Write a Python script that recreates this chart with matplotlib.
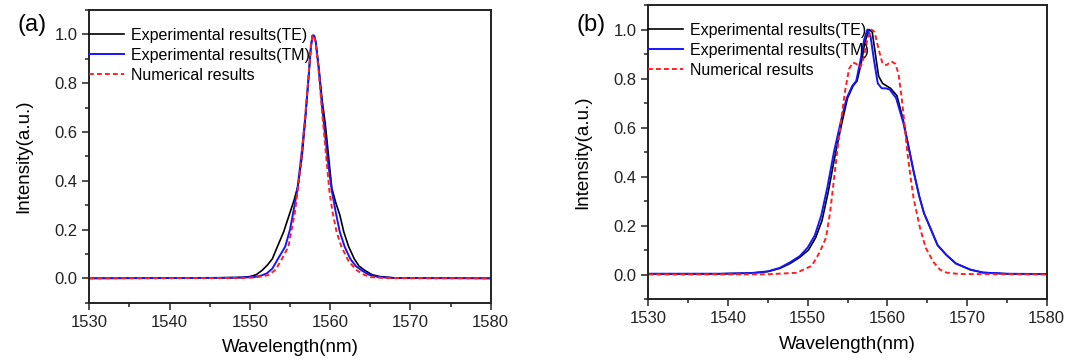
import matplotlib.pyplot as plt
from matplotlib.ticker import MultipleLocator

plt.rcParams['font.family'] = ['Liberation Sans', 'DejaVu Sans']

# panel (a)
wl_a_te = [1530, 1546, 1549, 1550, 1550.8, 1551.5, 1552.2, 1552.8, 1553.3, 1554.2, 1555.0, 1555.5,
           1556.0, 1556.5, 1556.9, 1557.3, 1557.6, 1557.8, 1558.0, 1558.2, 1558.6, 1559.0, 1559.4,
           1559.8, 1560.2, 1560.7, 1561.2, 1561.7, 1562.3, 1563.0, 1563.6, 1564.3, 1565.2, 1566.2,
           1568, 1580]
te_a = [0, 0.002, 0.004, 0.007, 0.015, 0.032, 0.055, 0.08, 0.12, 0.19, 0.27, 0.32,
        0.38, 0.5, 0.65, 0.82, 0.95, 0.995, 0.995, 0.97, 0.86, 0.73, 0.63,
        0.5, 0.37, 0.31, 0.26, 0.19, 0.13, 0.08, 0.05, 0.033, 0.015, 0.007,
        0.002, 0]

wl_a_tm = [1530, 1548, 1550.5, 1551.3, 1552.1, 1552.8, 1553.5, 1554.4, 1555.0, 1555.4, 1555.9,
           1556.4, 1556.9, 1557.3, 1557.6, 1557.8, 1558.0, 1558.2, 1558.6, 1559.0, 1559.4, 1559.8,
           1560.2, 1560.7, 1561.2, 1561.8, 1562.5, 1563.2, 1563.9, 1564.8, 1566, 1568, 1580]
tm_a = [0, 0.002, 0.005, 0.01, 0.02, 0.04, 0.08, 0.13, 0.2, 0.27, 0.36,
        0.5, 0.66, 0.82, 0.95, 0.995, 0.995, 0.97, 0.85, 0.7, 0.58, 0.46,
        0.36, 0.27, 0.19, 0.13, 0.08, 0.05, 0.033, 0.015, 0.005, 0.001, 0]

wl_a_num = [1530, 1549, 1550.8, 1552.3, 1553.2, 1554.0, 1554.8, 1555.2, 1555.6, 1556.0, 1556.5,
            1556.9, 1557.3, 1557.6, 1557.8, 1558.0, 1558.2, 1558.6, 1559.0, 1559.5, 1559.9, 1560.3,
            1560.8, 1561.4, 1562.3, 1563.3, 1564.2, 1565, 1567, 1580]
num_a = [0, 0.001, 0.004, 0.013, 0.035, 0.08, 0.13, 0.2, 0.27, 0.37, 0.52,
         0.67, 0.83, 0.95, 0.995, 0.995, 0.96, 0.84, 0.68, 0.5, 0.36, 0.27,
         0.19, 0.13, 0.07, 0.033, 0.015, 0.005, 0.001, 0]

# panel (b)
wl_b_te = [1530, 1539, 1543, 1545, 1546.5, 1547.8, 1549, 1550.1, 1551, 1551.8, 1552.6, 1553.4,
           1554.3, 1555.0, 1555.7, 1556.2, 1556.7, 1557.2, 1557.7, 1558.1, 1558.5, 1558.9, 1559.4,
           1559.9, 1560.4, 1561.2, 1562.0, 1562.8, 1563.3, 1564.0, 1564.6, 1565.0, 1566.3, 1567.4,
           1568.6, 1570.4, 1572, 1575, 1580]
te_b = [0.003, 0.003, 0.006, 0.012, 0.025, 0.045, 0.07, 0.1, 0.15, 0.22, 0.34, 0.48,
        0.62, 0.72, 0.77, 0.79, 0.86, 0.95, 1.0, 0.99, 0.9, 0.81, 0.78,
        0.77, 0.76, 0.73, 0.63, 0.5, 0.42, 0.32, 0.25, 0.22, 0.12, 0.08,
        0.045, 0.02, 0.008, 0.003, 0.002]

wl_b_tm = [1530, 1539, 1543, 1545, 1546.5, 1547.8, 1549, 1550, 1550.9, 1551.7, 1552.5, 1553.3,
           1554.2, 1554.9, 1555.6, 1556.1, 1556.6, 1557.1, 1557.5, 1557.9, 1558.3, 1558.8, 1559.3,
           1559.8, 1560.3, 1561.1, 1562.0, 1562.8, 1563.3, 1564.0, 1564.6, 1565.0, 1566.3, 1567.4,
           1568.6, 1570.4, 1572, 1575, 1580]
tm_b = [0.003, 0.003, 0.006, 0.013, 0.027, 0.05, 0.075, 0.11, 0.16, 0.24, 0.36, 0.5,
        0.63, 0.72, 0.77, 0.79, 0.87, 0.96, 1.0, 0.97, 0.88, 0.78, 0.76,
        0.76, 0.755, 0.72, 0.62, 0.5, 0.42, 0.32, 0.25, 0.22, 0.12, 0.08,
        0.045, 0.02, 0.008, 0.003, 0.002]

wl_b_num = [1530, 1545, 1548.6, 1550.5, 1551.5, 1552.3, 1552.8, 1553.2, 1553.7, 1554.2, 1554.7,
            1555.2, 1555.7, 1556.1, 1556.6, 1557.0, 1557.5, 1558.0, 1558.4, 1558.9, 1559.4,
            1559.9, 1560.5, 1561.0, 1561.4, 1561.8, 1562.1, 1562.5, 1562.9, 1563.3, 1564.1,
            1564.8, 1565.8, 1566.6, 1567.4, 1569, 1580]
num_b = [0, 0.001, 0.007, 0.035, 0.09, 0.15, 0.25, 0.36, 0.5, 0.63, 0.75,
         0.84, 0.865, 0.86, 0.845, 0.88, 0.96, 1.0, 0.99, 0.92, 0.86,
         0.855, 0.87, 0.86, 0.82, 0.72, 0.63, 0.5, 0.4, 0.31, 0.19,
         0.11, 0.05, 0.02, 0.008, 0.002, 0]

labels = ['Experimental results(TE)', 'Experimental results(TM)', 'Numerical results']

fig = plt.figure(figsize=(10.83, 3.61), dpi=100)
ax_a = fig.add_axes([0.0825, 0.1615, 0.3706, 0.8108])
ax_b = fig.add_axes([0.5986, 0.1717, 0.3679, 0.8144])

panels = [
    (ax_a, wl_a_te, te_a, wl_a_tm, tm_a, wl_a_num, num_a, '(a)'),
    (ax_b, wl_b_te, te_b, wl_b_tm, tm_b, wl_b_num, num_b, '(b)'),
]

for ax, x1, y1, x2, y2, x3, y3, tag in panels:
    ax.plot(x1, y1, color='black', lw=1.2, label=labels[0])
    ax.plot(x2, y2, color='#1515ff', lw=1.4, label=labels[1])
    ax.plot(x3, y3, color='#ff2020', lw=1.4, ls=(0, (2.5, 1.6)), label=labels[2])
    ax.set_xlim(1530, 1580)
    ax.set_ylim(-0.1, 1.1)
    ax.xaxis.set_major_locator(MultipleLocator(10))
    ax.xaxis.set_minor_locator(MultipleLocator(5))
    ax.yaxis.set_major_locator(MultipleLocator(0.2))
    ax.yaxis.set_minor_locator(MultipleLocator(0.1))
    ax.tick_params(which='both', direction='out', top=False, right=False, labelsize=12,
                   width=1.1, colors='#222222')
    ax.tick_params(which='major', length=5)
    ax.tick_params(which='minor', length=3)
    for s in ax.spines.values():
        s.set_linewidth(1.4)
        s.set_color('#222222')
    ax.set_xlabel('Wavelength(nm)', fontsize=13.5, labelpad=7)
    ax.set_ylabel('Intensity(a.u.)', fontsize=13.5, labelpad=16)
    ax.legend(loc='upper left', bbox_to_anchor=(0, 0.94), frameon=False, fontsize=11.5,
              borderaxespad=0, borderpad=0, handlelength=2.2, handletextpad=0.4,
              labelspacing=0.32)
    pos = ax.get_position()
    fig.text(pos.x0 - 0.066, 0.93, tag, fontsize=17, ha='left', va='center')

fig.savefig('out.png', dpi=100)
